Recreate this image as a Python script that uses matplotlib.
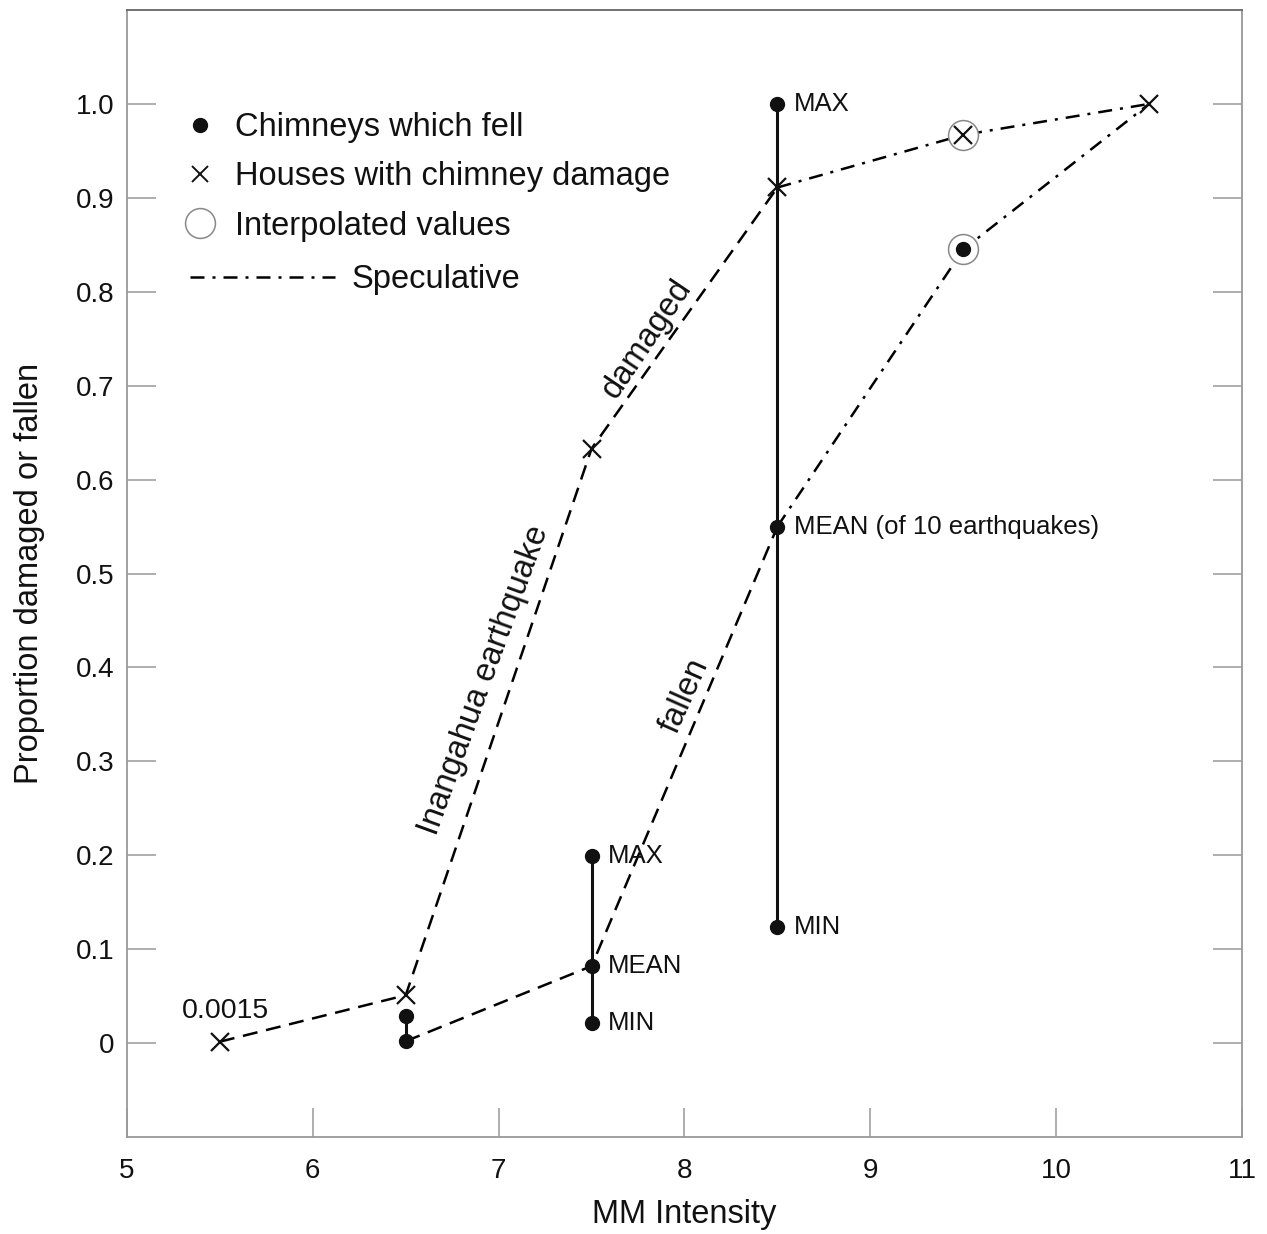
import matplotlib
matplotlib.use("Agg")
import matplotlib.pyplot as plt
from matplotlib.lines import Line2D

plt.rcParams["font.family"] = ["Liberation Sans", "DejaVu Sans"]

# houses with chimney damage (crosses)
damaged_x = [5.5, 6.5, 7.5, 8.5]
damaged_y = [0.0015, 0.051, 0.633, 0.911]
damaged_spec_x = [8.5, 9.5, 10.5]
damaged_spec_y = [0.911, 0.967, 1.0]

# chimneys which fell (means)
fallen_x = [6.5, 7.5, 8.5]
fallen_y = [0.002, 0.082, 0.55]
fallen_spec_x = [8.5, 9.5, 10.5]
fallen_spec_y = [0.55, 0.845, 1.0]

# ranges of fallen chimneys
range_x = [6.5, 7.5, 8.5]
range_min = [0.002, 0.021, 0.124]
range_max = [0.029, 0.199, 1.0]

# all fallen-chimney dots
dot_x = [6.5, 6.5, 7.5, 7.5, 7.5, 8.5, 8.5, 8.5, 9.5]
dot_y = [0.002, 0.029, 0.021, 0.082, 0.199, 0.124, 0.55, 1.0, 0.845]

# interpolated values
interp_x = [9.5, 9.5]
interp_y = [0.967, 0.845]

# value labels
label_x = [8.5, 8.5, 8.5, 7.5, 7.5, 7.5]
label_y = [1.0, 0.55, 0.124, 0.199, 0.082, 0.021]
label_txt = ["MAX", "MEAN (of 10 earthquakes)", "MIN", "MAX", "MEAN", "MIN"]

yticks = [0, 0.1, 0.2, 0.3, 0.4, 0.5, 0.6, 0.7, 0.8, 0.9, 1.0]
ytick_labels = ["0", "0.1", "0.2", "0.3", "0.4", "0.5", "0.6", "0.7", "0.8", "0.9", "1.0"]
xticks = [5, 6, 7, 8, 9, 10, 11]

DASH = (6, 3.5)
DASHDOT = (5.6, 3.2, 1.2, 3.2)
LW = 1.8
INK = "#111111"

fig = plt.figure(figsize=(12.67, 12.34), dpi=100)
ax = fig.add_axes([0.1002, 0.0786, 0.8801, 0.9133])

ax.plot(damaged_x, damaged_y, color="black", lw=LW, dashes=DASH)
ax.plot(damaged_spec_x, damaged_spec_y, color="black", lw=LW, dashes=DASHDOT)
ax.plot(fallen_x, fallen_y, color="black", lw=LW, dashes=DASH)
ax.plot(fallen_spec_x, fallen_spec_y, color="black", lw=LW, dashes=DASHDOT)

ax.vlines(range_x, range_min, range_max, color=INK, lw=2.2)

ax.plot(interp_x, interp_y, ls="none", marker="o", ms=21.5, mfc="white",
        mec="#888888", mew=1.1)
ax.plot(dot_x, dot_y, ls="none", marker="o", ms=10, color=INK)
ax.plot(damaged_x + damaged_spec_x[1:], damaged_y + damaged_spec_y[1:], ls="none",
        marker="x", ms=13, mew=1.6, color=INK)

for x, y, t in zip(label_x, label_y, label_txt):
    ax.annotate(t, (x, y), xytext=(12, 0), textcoords="offset points",
                ha="left", va="center", fontsize=18.5, color=INK)

ax.annotate("0.0015", (damaged_x[0], damaged_y[0]), xytext=(4, 22),
            textcoords="offset points", ha="center", va="center",
            fontsize=20.5, color=INK)

ax.text(6.92, 0.386, "Inangahua earthquake", rotation=70, ha="center",
        va="center", fontsize=23.5, color=INK)
ax.text(7.8, 0.75, "damaged", rotation=56, ha="center", va="center",
        fontsize=23.5, color=INK)
ax.text(8.0, 0.37, "fallen", rotation=66, ha="center", va="center",
        fontsize=23.5, color=INK)

ax.set_xlim(5, 11)
ax.set_ylim(-0.1, 1.1)
ax.set_xticks(xticks)
ax.set_yticks(yticks)
ax.set_yticklabels(ytick_labels)
ax.tick_params(axis="both", direction="in", length=21, width=1.1,
               color="#999999", labelsize=20, labelcolor=INK)
ax.tick_params(axis="y", right=True, pad=9)
ax.tick_params(axis="x", pad=15)
for side, sp in ax.spines.items():
    sp.set_color("#999999")
    sp.set_linewidth(1.3)
ax.spines["top"].set_color("#666666")

ax.set_xlabel("MM Intensity", fontsize=23.5, color=INK, labelpad=11)
ax.set_ylabel("Proportion damaged or fallen", fontsize=23.5, color=INK,
              labelpad=22)

h1 = [
    Line2D([], [], ls="none", marker="o", ms=10, color=INK),
    Line2D([], [], ls="none", marker="x", ms=11, mew=1.4, color=INK),
    Line2D([], [], ls="none", marker="o", ms=21.5, mfc="white", mec="#888888", mew=1.1),
]
leg1 = ax.legend(h1, ["Chimneys which fell", "Houses with chimney damage",
                      "Interpolated values"],
                 loc="upper left", bbox_to_anchor=(0.0508, 0.9095), frameon=False,
                 fontsize=23.5, handlelength=1.0, handletextpad=0.57,
                 labelspacing=0.56, borderpad=0, borderaxespad=0)
for t in leg1.get_texts():
    t.set_color(INK)
ax.add_artist(leg1)

h2 = [Line2D([], [], color="black", lw=LW, dashes=DASHDOT)]
leg2 = ax.legend(h2, ["Speculative"], loc="upper left",
                 bbox_to_anchor=(0.0565, 0.7742), frameon=False, fontsize=23.5,
                 handlelength=4.44, handletextpad=0.52, borderpad=0,
                 borderaxespad=0)
for t in leg2.get_texts():
    t.set_color(INK)

fig.savefig("out.png", dpi=100)
